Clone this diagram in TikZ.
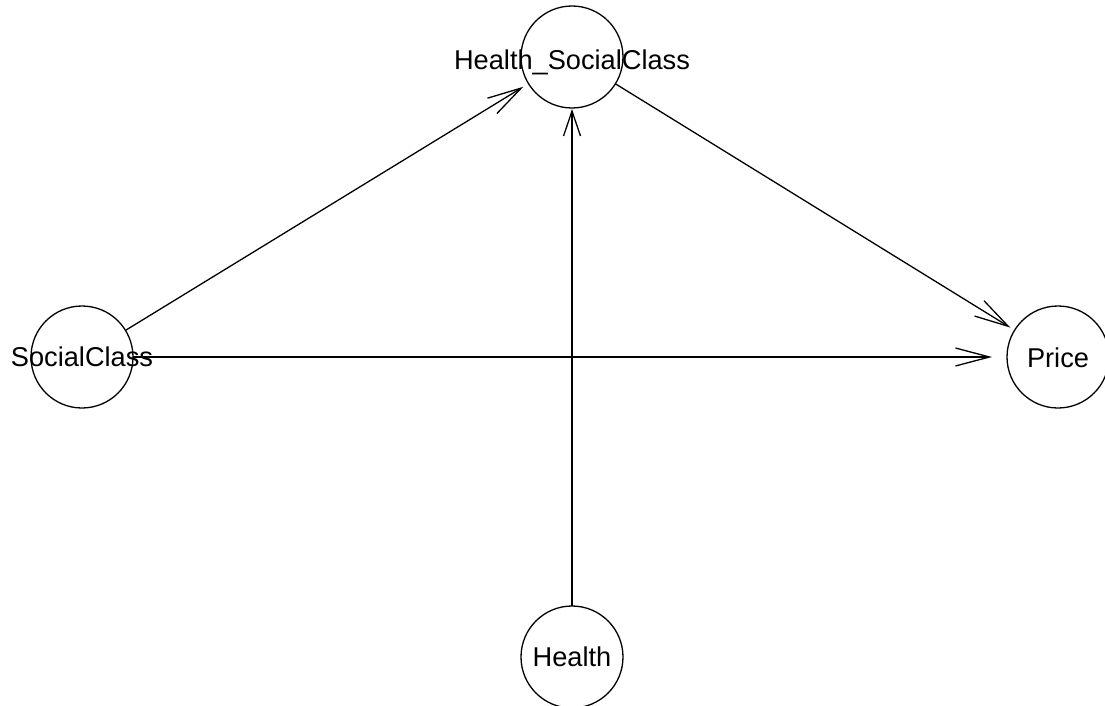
\documentclass[tikz,border=0pt]{standalone}
\usepackage{fontspec}
\setmainfont{Liberation Sans}
\usetikzlibrary{arrows.meta}
\begin{document}
\begin{tikzpicture}[x=1pt,y=-1pt,
  vert/.style={circle,draw=black,line width=1.3pt,minimum size=102pt,inner sep=0pt,outer sep=0pt},
  lbl/.style={inner sep=0pt,anchor=base,font=\fontsize{27.2}{30}\selectfont,text=black},
  edge/.style={line width=1.3pt,draw=black,-{Straight Barb[length=34pt,width=18pt,line width=1.3pt]}},
  ]
\useasboundingbox (0,0) rectangle (1105,706);
% vertices
\node[vert] (hsc) at (572,57) {};
\node[vert] (sc) at (82,357) {};
\node[vert] (price) at (1058,357) {};
\node[vert] (health) at (572,657) {};
% edges
\draw[edge,shorten >=6pt] (sc) -- (hsc);
\draw[edge,shorten >=15pt] (sc) -- (price);
\draw[edge,shorten >=5pt] (hsc) -- (price);
\draw[line width=1.3pt,-{Straight Barb[length=25pt,width=17pt,line width=1.3pt]},shorten >=1pt] (health) -- (hsc);
% labels
\node[lbl] (hscl) at ([yshift=-13pt]hsc.center) {Health\_SocialClass};
\node[lbl] (scl) at ([yshift=-9.5pt]sc.center) {SocialClass};
\node[lbl] (pricel) at ([yshift=-10pt]price.center) {Price};
\node[lbl] (healthl) at ([yshift=-9pt]health.center) {Health};
\end{tikzpicture}
\end{document}
